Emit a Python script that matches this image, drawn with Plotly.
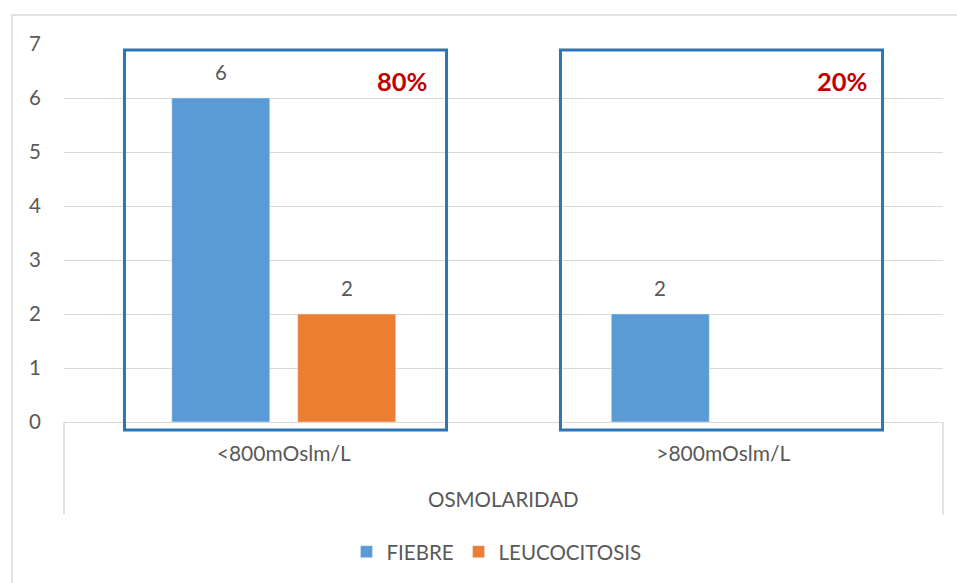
import plotly.graph_objects as go

# Chart data
categories = ["<800mOslm/L", ">800mOslm/L"]
fiebre = [6, 2]
leucocitosis = [2, None]
group_share = ["80%", "20%"]
axis_group_label = "OSMOLARIDAD"
y_ticks = [0, 1, 2, 3, 4, 5, 6, 7]

BLUE = "#5b9bd5"
ORANGE = "#ed7d31"
TEXT = "#595959"
GRID = "#d9d9d9"
BOX = "#2e75b6"
RED = "#c00000"
FONT = "Lato"

fig = go.Figure()
fig.add_trace(go.Bar(x=categories, y=fiebre, name="FIEBRE", marker_color=BLUE))
fig.add_trace(go.Bar(x=categories, y=leucocitosis, name="LEUCOCITOSIS", marker_color=ORANGE))

# value labels above each bar
annotations = []
for series_idx, values in enumerate([fiebre, leucocitosis]):
    for cat_idx, v in enumerate(values):
        if v is None:
            continue
        annotations.append(dict(
            x=cat_idx + (-0.143 if series_idx == 0 else 0.143), y=v,
            xref="x", yref="y", text=str(v), showarrow=False,
            yshift=26, font=dict(family=FONT, size=20.5, color=TEXT)))

# share labels in the top-right of each group
for cat_idx, pct in enumerate(group_share):
    annotations.append(dict(
        x=cat_idx + 0.27, y=6.32, xref="x", yref="y", text=f"<b>{pct}</b>",
        showarrow=False, font=dict(family=FONT, size=25.5, color=RED)))

# outer grouping label of the category axis
annotations.append(dict(
    x=0.5, y=-0.203, xref="paper", yref="paper", yanchor="middle",
    text=axis_group_label, showarrow=False,
    font=dict(family=FONT, size=20.5, color=TEXT)))

shapes = []
# frames around each category group
for x0, x1 in [(0.0688, 0.4352), (0.5648, 0.9312)]:
    shapes.append(dict(type="rect", xref="paper", yref="paper",
                       x0=x0, x1=x1, y0=-0.021, y1=0.984,
                       line=dict(color=BOX, width=3), layer="above"))
# category axis outer dividers
for xp in [0, 1]:
    shapes.append(dict(type="line", xref="paper", yref="paper",
                       x0=xp, x1=xp, y0=0, y1=-0.245,
                       line=dict(color=GRID, width=1.5)))
# chart area border
shapes.append(dict(type="path", xref="paper", yref="paper",
                   path="M -0.0592 -0.5 L -0.0592 1.0765 L 1.05 1.0765",
                   line=dict(color=GRID, width=1.5)))

fig.update_layout(
    width=957, height=583,
    margin=dict(l=64, r=14, t=44, b=160),
    paper_bgcolor="white", plot_bgcolor="white",
    barmode="group", bargap=0.427, bargroupgap=0.222,
    font=dict(family=FONT, size=20, color=TEXT),
    showlegend=True,
    legend=dict(orientation="h", x=0.492, xanchor="center", y=-0.34, yanchor="middle",
                font=dict(family=FONT, size=20.5, color=TEXT), itemwidth=30),
    annotations=annotations,
    shapes=shapes,
    xaxis=dict(showgrid=False, showline=False, zeroline=False, ticks="",
               ticklabelstandoff=17, tickfont=dict(family=FONT, size=21, color=TEXT)),
    yaxis=dict(range=[0, 7], tickvals=y_ticks, showgrid=True, gridcolor=GRID,
               gridwidth=1.3, zeroline=True, zerolinecolor=GRID, zerolinewidth=1.3,
               showline=False, ticks="", ticklabelstandoff=22,
               tickfont=dict(family=FONT, size=20.5, color=TEXT)),
)

fig.write_html("out.html")
